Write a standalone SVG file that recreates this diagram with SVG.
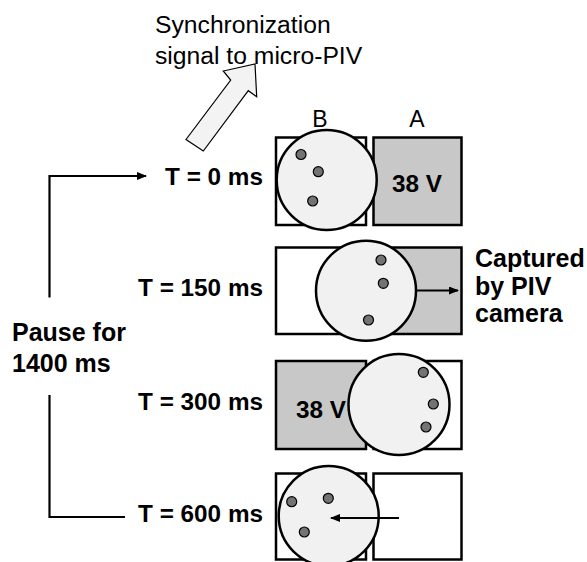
<svg xmlns="http://www.w3.org/2000/svg" width="587" height="562" viewBox="0 0 587 562">
<style>
.t{font-family:"Liberation Sans",Arial,sans-serif;fill:#000}
.b{font-weight:bold;font-size:24.3px}
.b2{font-weight:bold;font-size:25px}
.n{font-size:24.7px}
.box{fill:#fff;stroke:#000;stroke-width:2.5}
.on{fill:#c8c8c8;stroke:#000;stroke-width:2.5}
.drop{fill:#f1f1f1;stroke:#000;stroke-width:2.5}
.dot{fill:#737373;stroke:#000;stroke-width:1.2}
.ln{fill:none;stroke:#000;stroke-width:2.2}
</style>
<defs>
<marker id="ah" markerWidth="10" markerHeight="8" refX="9" refY="4" orient="auto" markerUnits="userSpaceOnUse">
<path d="M0,0 L10,4 L0,8 Z" fill="#000"/>
</marker>
</defs>
<rect width="587" height="562" fill="#fff"/>
<g id="sync">
<text class="t n" x="155" y="32.5">Synchronization</text>
<text class="t n" x="155" y="63.5">signal to micro-PIV</text>
<polygon points="186,139.5 230.7,80 223.3,71 255,64 256.7,96.7 248.3,90.7 203.3,151" fill="#f3f3f3" stroke="#000" stroke-width="1.2"/>
</g>
<g id="labels-AB">
<text class="t" x="320" y="126.5" font-size="23" text-anchor="middle">B</text>
<text class="t" x="417" y="126.5" font-size="23" text-anchor="middle">A</text>
</g>
<g id="row0">
<rect class="box" x="276" y="137.5" width="90" height="87.5"/>
<rect class="on" x="373.5" y="137.5" width="88" height="87.5"/>
<text class="t b" x="417" y="192" text-anchor="middle">38 V</text>
<circle class="drop" cx="326.7" cy="180" r="50"/>
<circle class="dot" cx="301" cy="154.5" r="5"/>
<circle class="dot" cx="318.3" cy="171.7" r="5"/>
<circle class="dot" cx="312.7" cy="201" r="5"/>
<text class="t b" x="263" y="184.5" text-anchor="end">T = 0 ms</text>
</g>
<g id="row150">
<rect class="box" x="276" y="247.5" width="90" height="86.5"/>
<rect class="on" x="373.5" y="247.5" width="88" height="86.5"/>
<circle class="drop" cx="366" cy="290.7" r="50"/>
<circle class="dot" cx="381" cy="260" r="5"/>
<circle class="dot" cx="383.3" cy="283.3" r="5"/>
<circle class="dot" cx="368.5" cy="320" r="5"/>
<text class="t b" x="263" y="296" text-anchor="end">T = 150 ms</text>
<text class="t b2" x="475" y="267">Captured</text>
<text class="t b2" x="475" y="294.5">by PIV</text>
<text class="t b2" x="475" y="322">camera</text>
</g>
<g id="row300">
<rect class="on" x="276" y="361" width="90" height="88"/>
<rect class="box" x="373.5" y="361" width="88" height="88"/>
<text class="t b" x="321" y="418" text-anchor="middle">38 V</text>
<circle class="drop" cx="399" cy="404.5" r="50.5"/>
<circle class="dot" cx="423.3" cy="372.3" r="5"/>
<circle class="dot" cx="433.3" cy="404" r="5"/>
<circle class="dot" cx="426" cy="427" r="5"/>
<text class="t b" x="263" y="410" text-anchor="end">T = 300 ms</text>
</g>
<g id="row600">
<rect class="box" x="276" y="473.5" width="90" height="86"/>
<rect class="box" x="373.5" y="473.5" width="88" height="86"/>
<circle class="drop" cx="328.7" cy="516" r="50"/>
<circle class="dot" cx="291.7" cy="501.7" r="5"/>
<circle class="dot" cx="328.3" cy="498.3" r="5"/>
<circle class="dot" cx="304.3" cy="532" r="5"/>
<text class="t b" x="263" y="521.7" text-anchor="end">T = 600 ms</text>
</g>
<g id="pause">
<text class="t b2" x="12" y="341">Pause for</text>
<text class="t b2" x="12" y="371.5">1400 ms</text>
</g>
<g id="connectors">
<polyline class="ln" points="49.5,297.5 49.5,176 146,176" marker-end="url(#ah)"/>
<polyline class="ln" points="49.5,395 49.5,517 125,517"/>
<line class="ln" x1="416" y1="290.5" x2="458" y2="290.5" marker-end="url(#ah)"/>
<line class="ln" x1="399" y1="518" x2="331" y2="518" marker-end="url(#ah)"/>
</g>
</svg>
